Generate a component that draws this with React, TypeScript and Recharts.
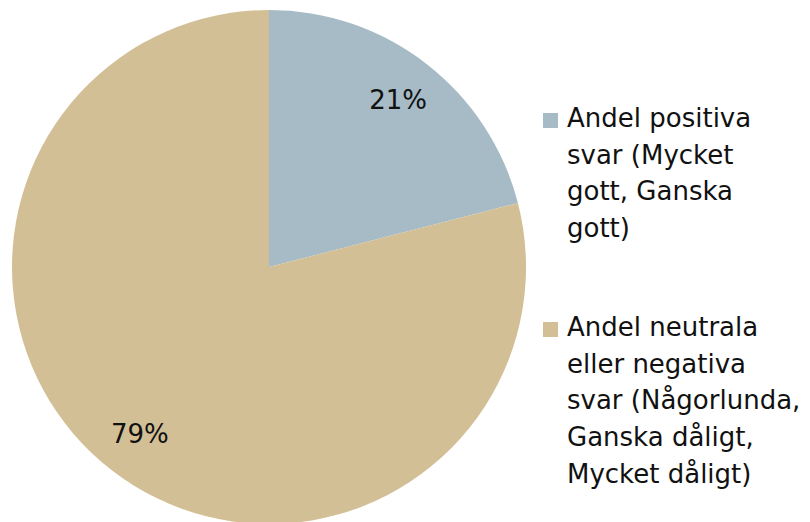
import React from "react";
import { PieChart, Pie, Cell, Legend } from "recharts";

const categories = [
  "Andel positiva svar (Mycket gott, Ganska gott)",
  "Andel neutrala eller negativa svar (Någorlunda, Ganska dåligt, Mycket dåligt)",
];
const legendLines = [
  ["Andel positiva", "svar (Mycket", "gott, Ganska", "gott)"],
  ["Andel neutrala", "eller negativa", "svar (Någorlunda,", "Ganska dåligt,", "Mycket dåligt)"],
];
const values = [21, 79];
const colors = ["#A6BBC6", "#D3BF96"];

const data = categories.map((name, i) => ({ name, value: values[i] }));

const FONT = "'DejaVu Sans', sans-serif";
const RAD = Math.PI / 180;

const renderLabel = (props: any) => {
  const { cx, cy, midAngle, outerRadius, percent } = props;
  const r = outerRadius * 0.82;
  const x = cx + r * Math.cos(-midAngle * RAD);
  const y = cy + r * Math.sin(-midAngle * RAD);
  return (
    <text
      x={x}
      y={y}
      textAnchor="middle"
      dominantBaseline="central"
      fill="#111"
      fontSize={26}
      fontFamily={FONT}
    >
      {`${Math.round(percent * 100)}%`}
    </text>
  );
};

const legendTops = [100, 309];

const renderLegend = () => (
  <div style={{ position: "relative", width: 810, height: 522 }}>
    {legendLines.map((lines, i) => (
      <div key={i} style={{ position: "absolute", left: 543, top: legendTops[i] }}>
        <div
          style={{
            position: "absolute",
            left: 0,
            top: 13,
            width: 15,
            height: 15,
            background: colors[i],
          }}
        />
        <div
          style={{
            position: "absolute",
            left: 24,
            top: 0,
            fontFamily: FONT,
            fontSize: 26,
            lineHeight: "36.7px",
            color: "#111",
            whiteSpace: "nowrap",
          }}
        >
          {lines.map((l, j) => (
            <div key={j}>{l}</div>
          ))}
        </div>
      </div>
    ))}
  </div>
);

export default function App() {
  return (
    <div style={{ position: "absolute", left: 0, top: 0, width: 810, height: 522, background: "#fff" }}>
      <PieChart width={810} height={522} margin={{ top: 0, right: 0, bottom: 0, left: 0 }}>
        <Pie
          data={data}
          dataKey="value"
          nameKey="name"
          cx={269}
          cy={267}
          outerRadius={257}
          startAngle={90}
          endAngle={-270}
          stroke="none"
          labelLine={false}
          label={renderLabel}
          isAnimationActive={false}
        >
          {data.map((d, i) => (
            <Cell key={d.name} fill={colors[i]} />
          ))}
        </Pie>
        <Legend
          content={renderLegend}
          wrapperStyle={{ position: "absolute", left: 0, top: 0, width: 810, height: 522 }}
        />
      </PieChart>
    </div>
  );
}
